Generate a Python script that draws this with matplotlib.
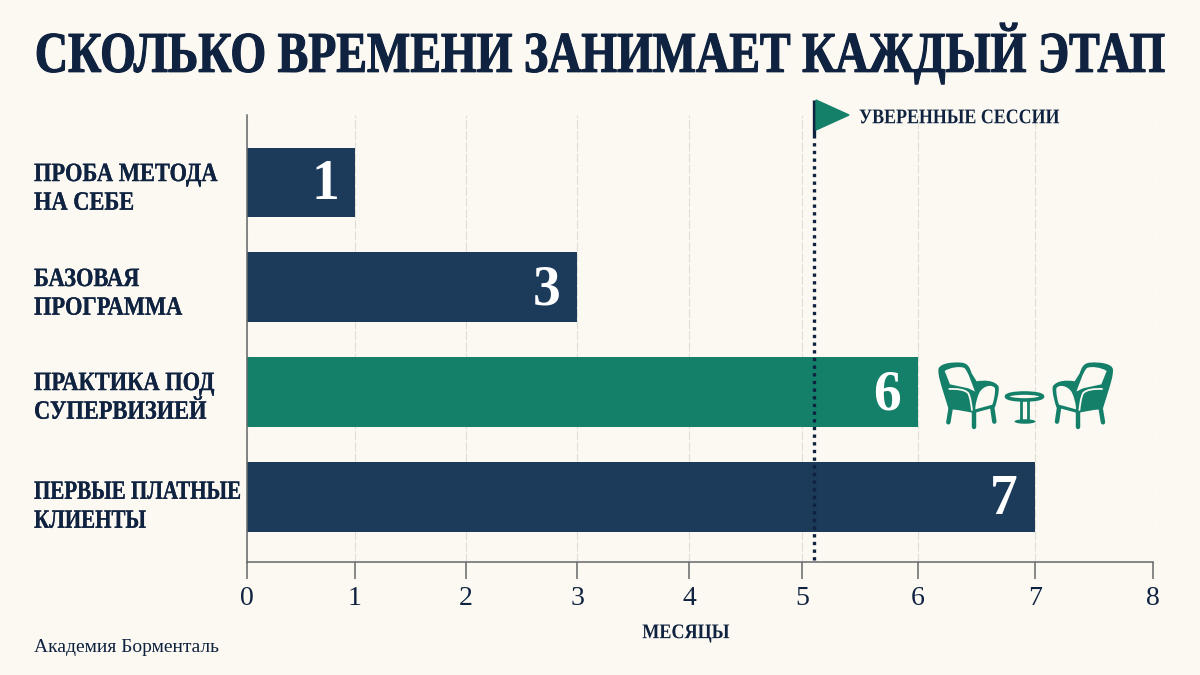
import matplotlib
matplotlib.use("Agg")
import matplotlib.pyplot as plt
import numpy as np
from matplotlib.patches import Ellipse, PathPatch, Polygon
from matplotlib.path import Path
from matplotlib.patheffects import AbstractPathEffect
from matplotlib.transforms import Affine2D

categories = ["ПРОБА МЕТОДА\nНА СЕБЕ", "БАЗОВАЯ\nПРОГРАММА", "ПРАКТИКА ПОД\nСУПЕРВИЗИЕЙ", "ПЕРВЫЕ ПЛАТНЫЕ\nКЛИЕНТЫ"]
months = [1, 3, 6, 7]
highlight = "ПРАКТИКА ПОД\nСУПЕРВИЗИЕЙ"
marker_value = 5.1
marker_label = "УВЕРЕННЫЕ СЕССИИ"
tick_values = [0, 1, 2, 3, 4, 5, 6, 7, 8]
title = "СКОЛЬКО ВРЕМЕНИ ЗАНИМАЕТ КАЖДЫЙ ЭТАП"
xlabel = "МЕСЯЦЫ"
source = "Академия Борменталь"

BG = "#fbf9f2"
NAVY = "#1c3a5a"
GREEN = "#14806a"
INK = "#0f2240"

plt.rcParams["font.family"] = ["Liberation Serif", "DejaVu Serif"]


class Tall(AbstractPathEffect):
    # no condensed serif is installed: a smaller size stretched upward looks the same
    def __init__(self, y0, sy, stroke=0):
        super().__init__()
        self.y0, self.sy, self.stroke = y0, sy, stroke

    def draw_path(self, renderer, gc, tpath, affine, rgbFace=None):
        tr = affine + Affine2D().translate(0, -self.y0).scale(1, self.sy).translate(0, self.y0)
        if self.stroke:
            gc0 = renderer.new_gc()
            gc0.copy_properties(gc)
            gc0.set_linewidth(self.stroke)
            gc0.set_foreground(rgbFace)
            renderer.draw_path(gc0, tpath, tr, rgbFace)
            gc0.restore()
        renderer.draw_path(gc, tpath, tr, rgbFace)


fig = plt.figure(figsize=(12, 6.75), dpi=100, facecolor=BG)
ax = fig.add_axes([247 / 1200, 1 - 562 / 675, 906 / 1200, 447 / 675], facecolor="none")

# the axis in the picture is not evenly spaced, so the scale follows its tick pixels
tick_px = [0, 108, 219, 330, 442, 555, 671, 788, 906]
ax.set_xscale("function", functions=(
    lambda v: np.interp(v, tick_values, tick_px),
    lambda p: np.interp(p, tick_px, tick_values),
))
ax.set_xlim(0, 8)
ax.set_ylim(3.62, -0.64)

bar_colors = [GREEN if c == highlight else NAVY for c in categories]
ax.barh(range(len(categories)), months, height=0.66, color=bar_colors, zorder=2)
for i, m in enumerate(months):
    ax.text(m - 0.15, i + 0.03, str(m), ha="right", va="center", color="white",
            fontsize=40, fontweight="bold", zorder=3)

ax.set_xticks(tick_values)
ax.set_xticklabels([str(t) for t in tick_values], fontsize=20, color=INK)
ax.tick_params(axis="x", length=12, width=1.1, color="#66696b", pad=5)
ax.set_yticks([])
ax.grid(axis="x", color="#e0dfd6", lw=0.8, ls=(0, (8, 2)), zorder=1)
for s in ["top", "right"]:
    ax.spines[s].set_visible(False)
for s in ["left", "bottom"]:
    ax.spines[s].set_color("#66696b")
    ax.spines[s].set_linewidth(1.1)

ax.axvline(marker_value, ymin=0.005, ymax=0.94, color=INK, lw=2.4, ls=(0, (1, 1.3)), zorder=4)

# overlay in picture pixels for text placement and icons
ov = fig.add_axes([0, 0, 1, 1], facecolor="none")
ov.set_xlim(0, 1200)
ov.set_ylim(675, 0)
ov.axis("off")


def narrow(x, y, s, size, sx, stroke=0, **kw):
    t = ov.text(x, y, s, fontsize=size * sx, color=INK, fontweight="bold", va="center", **kw)
    t.set_path_effects([Tall(675 - y, 1 / sx, stroke)])
    return t


narrow(599.5, 53, title, 41.5, 0.797, stroke=0.8, ha="center")
label_sx = [0.85, 0.85, 0.85, 0.795]
label_gap = [1.29, 1.29, 1.29, 1.2]
for c, yc, sx, gap in zip(categories, [189.5, 294.5, 398.5, 507], label_sx, label_gap):
    narrow(34, yc, c, 19, sx, stroke=0.15, ha="left", linespacing=gap)
narrow(686, 633, xlabel, 15, 0.87, ha="center")
narrow(859, 118, marker_label, 15, 0.86, ha="left")
ov.text(34, 647, source, ha="left", va="center", fontsize=14, color=INK)

# flag on top of the dotted line
ov.plot([814, 814], [100, 138], color=INK, lw=2.4, solid_capstyle="butt", zorder=5)
ov.add_patch(Polygon([(816, 100), (849, 115), (816, 130)], color=GREEN, zorder=5))

M, L, C = Path.MOVETO, Path.LINETO, Path.CURVE4


def curve(parts):
    verts, codes = [], []
    for code, pts in parts:
        verts += pts
        codes += [code] * len(pts)
    return verts, codes


def chair(mirror=None):
    def fit(pts):
        out = []
        for x, y in pts:
            if mirror is not None:
                x = 2 * mirror - x
            out.append((900 + x / 3, 340 + y / 3))
        return out

    def shape(parts, **kw):
        v, c = curve(parts)
        ov.add_patch(PathPatch(Path(fit(v), c), zorder=5, **kw))

    # back and arm outline
    shape([(M, [(115, 90)]), (C, [(115, 72), (150, 65), (185, 68), (205, 70), (210, 85), (215, 100)]),
           (L, [(230, 124)]), (C, [(250, 120), (285, 120), (296, 140), (298, 160), (290, 185), (285, 202)]),
           (L, [(222, 219)]), (C, [(195, 214), (170, 208), (146, 208)]), (L, [(128, 150)]),
           (C, [(122, 130), (115, 110), (115, 90)])], fc=GREEN, ec="none")
    # cream back
    shape([(M, [(134, 93)]), (C, [(150, 82), (180, 78), (193, 84), (205, 95), (215, 130), (225, 155)]),
           (L, [(232, 158)]), (L, [(205, 145)]), (L, [(150, 133)]), (L, [(134, 93)])], fc=BG, ec="none")
    # cream seat inside the arm
    shape([(M, [(238, 158)]), (C, [(250, 136), (278, 132), (285, 145), (286, 160), (282, 180), (277, 194)]),
           (L, [(226, 208)]), (C, [(226, 190), (232, 172), (238, 158)])], fc=BG, ec="none")
    # light seam over the seat
    seam = [(M, [(146, 147)]), (C, [(170, 146), (195, 148), (205, 160), (212, 175), (214, 195), (216, 212)])]
    v, c = curve(seam)
    ov.add_patch(PathPatch(Path(fit(v), c), fc="none", ec=BG, lw=1.3, zorder=6))
    for a, b in [((152, 205), (145, 247)), ((221, 216), (221, 260)), ((277, 204), (283, 245))]:
        p = fit([a, b])
        ov.plot([p[0][0], p[1][0]], [p[0][1], p[1][1]], color=GREEN, lw=3.2, solid_capstyle="round", zorder=5)


chair()
chair(mirror=377)
# small table between the chairs
ov.add_patch(Ellipse((1024.5, 396.5), 36, 7, fc=BG, ec=GREEN, lw=2.6, zorder=5))
for xs in [1021, 1028]:
    ov.plot([xs, xs], [400, 421], color=GREEN, lw=2, zorder=5)
ov.add_patch(Ellipse((1025, 421.5), 21, 4.5, fc=GREEN, ec="none", zorder=5))

fig.savefig("out.png", dpi=100, facecolor=BG)
